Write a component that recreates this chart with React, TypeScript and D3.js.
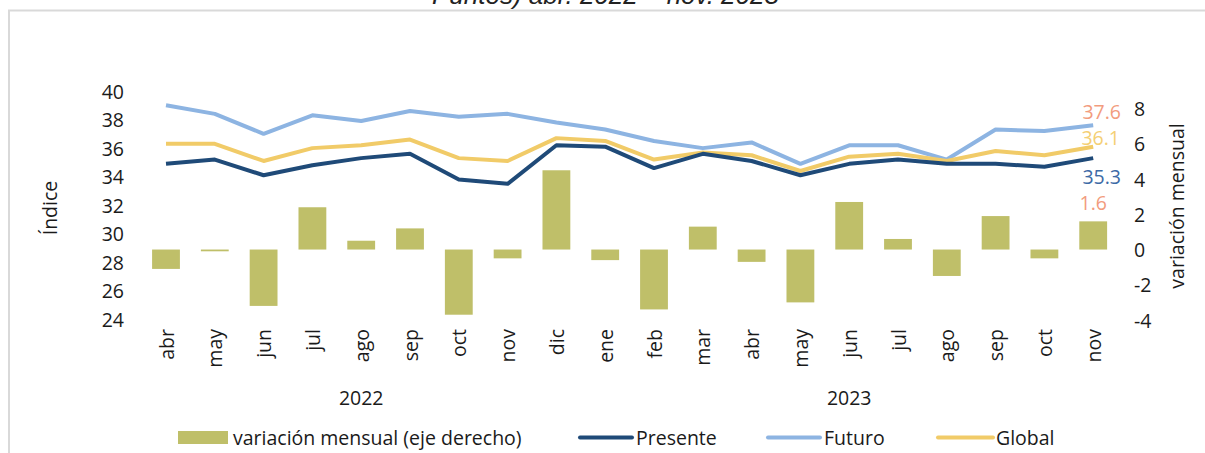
import React from "react";
import * as d3 from "d3";

const months = ["abr","may","jun","jul","ago","sep","oct","nov","dic","ene","feb","mar","abr","may","jun","jul","ago","sep","oct","nov"];
const years = [{ label: "2022", from: 0, to: 8 }, { label: "2023", from: 9, to: 19 }];
const variacion = [-1.1,-0.1,-3.2,2.4,0.5,1.2,-3.7,-0.5,4.5,-0.6,-3.4,1.3,-0.7,-3.0,2.7,0.6,-1.5,1.9,-0.5,1.6];
const presente = [34.9,35.2,34.1,34.8,35.3,35.6,33.8,33.5,36.2,36.1,34.6,35.6,35.1,34.1,34.9,35.2,34.9,34.9,34.7,35.3];
const futuro = [39.0,38.4,37.0,38.3,37.9,38.6,38.2,38.4,37.8,37.3,36.5,36.0,36.4,34.9,36.2,36.2,35.2,37.3,37.2,37.6];
const global = [36.3,36.3,35.1,36.0,36.2,36.6,35.3,35.1,36.7,36.5,35.2,35.7,35.5,34.4,35.4,35.6,35.1,35.8,35.5,36.1];
const leftTicks = [24,26,28,30,32,34,36,38,40];
const rightTicks = [-4,-2,0,2,4,6,8];

const W = 1205, H = 453;
const FONT = "'Open Sans', 'Noto Sans', sans-serif";
const FS = 19.5;
const C_BAR = "#BFBF69";
const C_PRES = "#1F4A78";
const C_FUT = "#8DB4E2";
const C_GLOB = "#F1CB68";
const C_SALMON = "#F29C7E";
const C_TEXT = "#1a1a1a";

export default function App() {
  const x = d3.scaleBand<number>().domain(d3.range(months.length)).range([141.6, 1117.6]).paddingInner(0.43).paddingOuter(0.215);
  const yL = d3.scaleLinear().domain([24, 40]).range([319.5, 91]);
  const yR = d3.scaleLinear().domain([-4, 9]).range([320, 91]);
  const cx = (i: number) => (x(i) as number) + x.bandwidth() / 2;
  const line = d3.line<number>().x((_, i) => cx(i)).y((d) => yL(d));
  const last = months.length - 1;

  return (
    <svg width={W} height={H} style={{ position: "absolute", left: 0, top: 0, background: "#fff" }} fontFamily={FONT} fontWeight={400}>
      <rect x={0} y={0} width={W} height={H} fill="#fff" />
      <text x={432} y={3.5} fontFamily="'Liberation Sans', Arial, sans-serif" fontStyle="italic" fontWeight={400} fontSize={26} fill="#222">Puntos) abr. 2022 – nov. 2023</text>
      <rect x={9} y={10.5} width={W + 10} height={H + 10} fill="none" stroke="#d9d9d9" strokeWidth={2} />

      {/* bars */}
      {variacion.map((v, i) => (
        <rect key={"b" + i} x={x(i)} width={x.bandwidth()} y={yR(Math.max(0, v))} height={Math.abs(yR(v) - yR(0))} fill={C_BAR} />
      ))}

      {/* lines */}
      <path d={line(futuro) || ""} fill="none" stroke={C_FUT} strokeWidth={4} strokeLinejoin="round" />
      <path d={line(global) || ""} fill="none" stroke={C_GLOB} strokeWidth={4} strokeLinejoin="round" />
      <path d={line(presente) || ""} fill="none" stroke={C_PRES} strokeWidth={4} strokeLinejoin="round" />

      {/* left ticks */}
      {leftTicks.map((t) => (
        <text key={"l" + t} x={124} y={yL(t)} textAnchor="end" dominantBaseline="central" fontSize={FS} fill={C_TEXT}>{t}</text>
      ))}
      {/* right ticks */}
      {rightTicks.map((t) => (
        <text key={"r" + t} x={1134} y={yR(t)} textAnchor="start" dominantBaseline="central" fontSize={FS} fill={C_TEXT}>{t}</text>
      ))}

      {/* axis titles */}
      <text transform="translate(49,208) rotate(-90)" textAnchor="middle" dominantBaseline="central" fontSize={FS} fill={C_TEXT}>Índice</text>
      <text transform="translate(1176,206) rotate(-90)" textAnchor="middle" dominantBaseline="central" fontSize={FS} fill={C_TEXT}>variación mensual</text>

      {/* category labels */}
      {months.map((m, i) => (
        <text key={"m" + i} transform={`translate(${cx(i)},329) rotate(-90)`} textAnchor="end" dominantBaseline="central" fontSize={FS} fill={C_TEXT}>{m}</text>
      ))}
      {years.map((yy) => (
        <text key={yy.label} x={(cx(yy.from) + cx(yy.to)) / 2} y={397} textAnchor="middle" dominantBaseline="central" fontSize={FS} fill={C_TEXT}>{yy.label}</text>
      ))}

      {/* data labels */}
      <text x={1121} y={yL(futuro[last]) - 14} textAnchor="end" dominantBaseline="central" fontSize={FS} fill={C_SALMON}>{futuro[last].toFixed(1)}</text>
      <text x={1120} y={yL(global[last]) - 9} textAnchor="end" dominantBaseline="central" fontSize={FS} fill="#F4CF74">{global[last].toFixed(1)}</text>
      <text x={1121} y={yL(presente[last]) + 18} textAnchor="end" dominantBaseline="central" fontSize={FS} fill="#3D6AA6">{presente[last].toFixed(1)}</text>
      <text x={cx(last)} y={yR(variacion[last]) - 19} textAnchor="middle" dominantBaseline="central" fontSize={FS} fill={C_SALMON}>{variacion[last].toFixed(1)}</text>

      {/* legend */}
      <rect x={178} y={431} width={50} height={13} fill={C_BAR} />
      <text x={233} y={437.5} dominantBaseline="central" fontSize={FS} fill={C_TEXT}>variación mensual (eje derecho)</text>
      <line x1={580} x2={632} y1={437.5} y2={437.5} stroke={C_PRES} strokeWidth={4} strokeLinecap="round" />
      <text x={636} y={437.5} dominantBaseline="central" fontSize={FS} fill={C_TEXT}>Presente</text>
      <line x1={768} x2={820} y1={437.5} y2={437.5} stroke={C_FUT} strokeWidth={4} strokeLinecap="round" />
      <text x={824} y={437.5} dominantBaseline="central" fontSize={FS} fill={C_TEXT}>Futuro</text>
      <line x1={938} x2={993} y1={437.5} y2={437.5} stroke={C_GLOB} strokeWidth={4} strokeLinecap="round" />
      <text x={996} y={437.5} dominantBaseline="central" fontSize={FS} fill={C_TEXT}>Global</text>
    </svg>
  );
}
